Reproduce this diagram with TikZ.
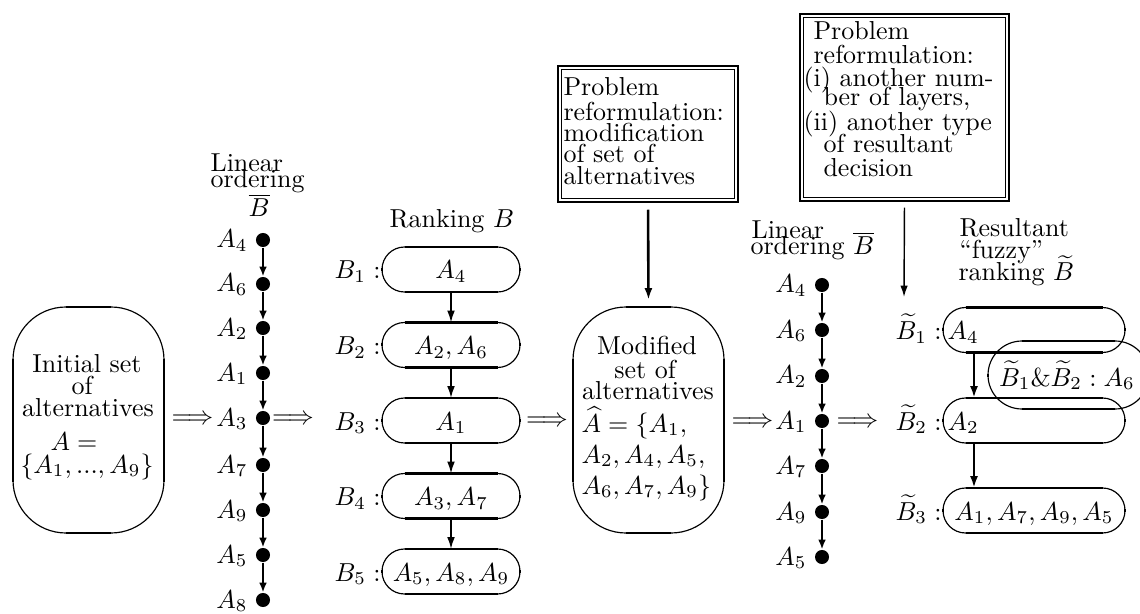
\documentclass[tikz,border=0pt]{standalone}
\usetikzlibrary{arrows.meta,calc}
\newlength\pxu \setlength\pxu{0.385pt}
\tikzset{
  arcline/.style={line width=0.45pt},
  sline/.style={line width=1pt},
  ovalnode/.style={inner sep=0pt, outer sep=0pt},
  dotnode/.style={circle, fill=black, inner sep=0pt, minimum size=5.4pt},
  chainarr/.style={line width=0.9pt, -{Latex[length=3.8pt,width=3pt]}},
  rankarr/.style={line width=0.65pt, -{Latex[length=4.6pt,width=3pt]}},
  fatarr/.style={line width=1pt, -{Latex[length=4.6pt,width=3.1pt]}},
  slimarr/.style={line width=0.55pt, -{Latex[length=4.4pt,width=2.9pt]}},
  dbox/.style={draw, double, line width=0.6pt, double distance=0.8pt, inner sep=0pt},
  tl/.style={inner sep=0pt, anchor=base west},
  tc/.style={inner sep=0pt, anchor=base},
  tr/.style={inner sep=0pt, anchor=base east},
}
\newcommand\drawoval[6]{%
  \node[ovalnode, minimum width=#4*\pxu, minimum height=#5*\pxu] (#1) at (#2,#3) {};
  \draw[arcline, rounded corners=#6*\pxu] (#1.north west) rectangle (#1.south east);
  \draw[sline] ($(#1.north west)+(#6,0)$) -- ($(#1.north east)+(-#6,0)$);
  \draw[sline] ($(#1.south west)+(#6,0)$) -- ($(#1.south east)+(-#6,0)$);
  \draw[sline] ($(#1.north west)+(0,#6-1.5)$) -- ($(#1.south west)+(0,-#6+1.5)$);
  \draw[sline] ($(#1.north east)+(0,#6-1.5)$) -- ($(#1.south east)+(0,-#6+1.5)$);
}
\begin{document}
\begin{tikzpicture}[x=0.385pt,y=-0.385pt]
\useasboundingbox (0,0) rectangle (1140,614);
\clip (0,0) rectangle (1140,614);

% ---------- initial set ----------
\drawoval{init}{88.5}{420}{151}{226}{53}
\node[tc] (i1) at (87,372) {Initial set};
\node[tc] (i2) at (82,394) {of};
\node[tc] (i3) at (88,416) {alternatives};
\node[tc] (i4) at (74,450) {$A=$};
\node[tc] (i5) at (87,473) {$\{A_1,...,A_9\}$};

\node[tc] (imp1) at (192.5,424.5) {$\Longrightarrow$};

% ---------- chain 1 ----------
\node[tl] (lo1a) at (210,172) {Linear};
\node[tl] (lo1b) at (210,188) {ordering};
\node[tc] (lo1c) at (259,217) {$\overline{B}$};
\foreach \n/\y/\lab in {a4/240/4,a6/284/6,a2/328/2,a1/373/1,a3/418/3,a7/465/7,a9/510/9,a5/555/5,a8/600/8}{
  \node[dotnode] (c1\n) at (263,\y) {};
  \node[tr] (l1\n) at (248,\y+8) {$A_{\lab}$};
}
\draw[chainarr] (c1a4) -- (c1a6);
\draw[chainarr] (c1a6) -- (c1a2);
\draw[chainarr] (c1a2) -- (c1a1);
\draw[chainarr] (c1a1) -- (c1a3);
\draw[chainarr] (c1a3) -- (c1a7);
\draw[chainarr] (c1a7) -- (c1a9);
\draw[chainarr] (c1a9) -- (c1a5);
\draw[chainarr] (c1a5) -- (c1a8);

\node[tc] (imp2) at (293,424.5) {$\Longrightarrow$};

% ---------- ranking B ----------
\node[tl] (rkt) at (389,228) {Ranking $B$};
\drawoval{b1}{451}{269.5}{138}{45}{22.5}
\drawoval{b2}{451}{345}{138}{45}{22.5}
\drawoval{b3}{451}{420.5}{138}{45}{22.5}
\drawoval{b4}{451}{496}{138}{45}{22.5}
\drawoval{b5}{451}{571.5}{138}{45}{22.5}
\node[tr] (lb1) at (381,279) {$B_1:$};
\node[tr] (lb2) at (381,354.5) {$B_2:$};
\node[tr] (lb3) at (381,430) {$B_3:$};
\node[tr] (lb4) at (381,505.5) {$B_4:$};
\node[tr] (lb5) at (381,581) {$B_5:$};
\node[tc] (tb1) at (451,279) {$A_4$};
\node[tc] (tb2) at (451,354.5) {$A_2,A_6$};
\node[tc] (tb3) at (451,430) {$A_1$};
\node[tc] (tb4) at (451,505.5) {$A_3,A_7$};
\node[tc] (tb5) at (451,581) {$A_5,A_8,A_9$};
\draw[rankarr] (b1.south) -- (b2.north);
\draw[rankarr] (b2.south) -- (b3.north);
\draw[rankarr] (b3.south) -- (b4.north);
\draw[rankarr] (b4.south) -- (b5.north);

\node[tc] (imp3) at (547,426.5) {$\Longrightarrow$};

% ---------- box 1 and modified set ----------
\node[dbox, minimum width=176.8*\pxu, minimum height=132.8*\pxu] (box1) at (648,134) {};
\node[tl] (p1a) at (563,96) {Problem};
\node[tl] (p1b) at (563,121) {reformulation:};
\node[tl] (p1c) at (563,142) {modification};
\node[tl] (p1d) at (563,163) {of set of};
\node[tl] (p1e) at (563,185) {alternatives};

\drawoval{mod}{648.5}{420}{151}{226}{53}
\node[tc] (m1) at (647,355) {Modified};
\node[tc] (m2) at (645,378) {set of};
\node[tc] (m3) at (648,400) {alternatives};
\node[tl] (m4) at (581,432) {$\widehat{A}=\{A_1,$};
\node[tl] (m5) at (581,463) {$A_2,A_4,A_5,$};
\node[tl] (m6) at (581,494) {$A_6,A_7,A_9\}$};
\draw[fatarr, shorten <=3.3pt, shorten >=2.7pt] (box1.south) -- (mod.north);

\node[tc] (imp4) at (752.5,427.5) {$\Longrightarrow$};

% ---------- chain 2 ----------
\node[tl] (lo2a) at (751,239) {Linear};
\node[tl] (lo2b) at (750,255) {ordering $\overline{B}$};
\foreach \n/\y/\lab in {a4/285/4,a6/330/6,a2/376/2,a1/421/1,a7/466/7,a9/512/9,a5/557/5}{
  \node[dotnode] (c2\n) at (822,\y) {};
  \node[tr] (l2\n) at (807,\y+8) {$A_{\lab}$};
}
\draw[chainarr] (c2a4) -- (c2a6);
\draw[chainarr] (c2a6) -- (c2a2);
\draw[chainarr] (c2a2) -- (c2a1);
\draw[chainarr] (c2a1) -- (c2a7);
\draw[chainarr] (c2a7) -- (c2a9);
\draw[chainarr] (c2a9) -- (c2a5);

\node[tc] (imp5) at (857.5,427.5) {$\Longrightarrow$};

% ---------- box 2 ----------
\node[dbox, minimum width=205.8*\pxu, minimum height=183.8*\pxu] (box2) at (904.5,107.5) {};
\node[tl] (p2a) at (813,40) {Problem};
\node[tl] (p2b) at (813,64) {reformulation:};
\node[tl] (p2c) at (803,87) {(i) another num-};
\node[tl] (p2d) at (823,106) {ber of layers,};
\node[tl] (p2e) at (803,131) {(ii) another type};
\node[tl] (p2f) at (823,153) {of resultant};
\node[tl] (p2g) at (823,177) {decision};
\coordinate (t2) at (904,297);
\draw[slimarr, shorten <=2.9pt] (box2.south) -- (t2);

% ---------- resultant fuzzy ranking ----------
\node[tl] (r1) at (959,237) {Resultant};
\node[tl] (r2) at (959,259) {``fuzzy''};
\node[tl] (r3) at (958,281) {ranking $\widetilde{B}$};
\drawoval{bt1}{1034}{330}{182}{45}{22.5}
\drawoval{bt2}{1034}{420.5}{182}{45}{22.5}
\drawoval{bt3}{1034}{510.5}{182}{45}{22.5}
\drawoval{big}{1068.5}{375}{161}{68}{34}
\node[tr] (lbt1) at (942,339.5) {$\widetilde{B}_1:$};
\node[tr] (lbt2) at (942,430) {$\widetilde{B}_2:$};
\node[tr] (lbt3) at (942,520) {$\widetilde{B}_3:$};
\node[tl] (tbt1) at (947,339.5) {$A_4$};
\node[tl] (tbt2) at (947,430) {$A_2$};
\node[tc] (tbt3) at (1034,520) {$A_1,A_7,A_9,A_5$};
\node[tc] (tbig) at (1067,386) {$\widetilde{B}_1\&\widetilde{B}_2:A_6$};
\coordinate (ax) at (974,0);
\draw[fatarr] (bt1.south -| ax) -- (bt2.north -| ax);
\draw[fatarr] (bt2.south -| ax) -- (bt3.north -| ax);
\end{tikzpicture}
\end{document}
